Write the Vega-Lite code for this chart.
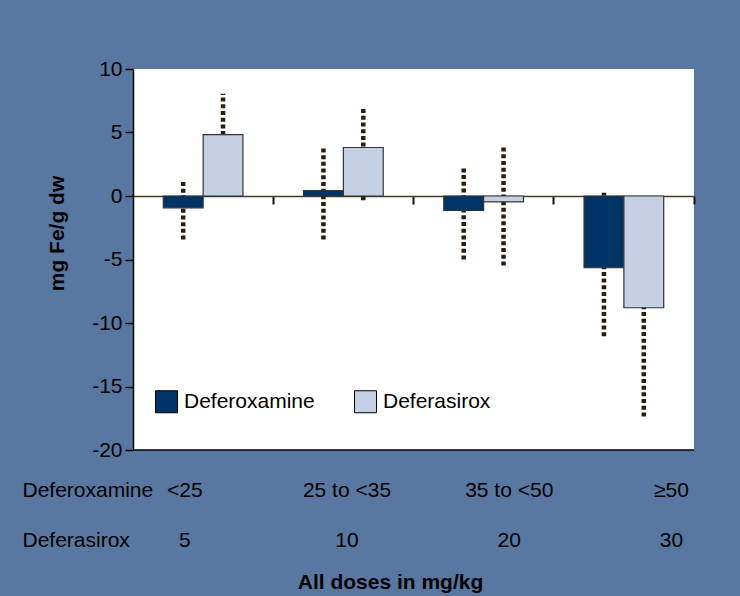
{
  "$schema": "https://vega.github.io/schema/vega-lite/v6.json",
  "width": 561,
  "height": 381,
  "autosize": "none",
  "padding": {"left": 133, "top": 69, "right": 46, "bottom": 146},
  "background": "#5877a1",
  "config": {"view": {"fill": "white", "stroke": null}, "font": "Liberation Sans"},
  "resolve": {"scale": {"x": "independent"}, "axis": {"x": "independent"}},
  "layer": [
    {
      "data": {"values": [
        {"group": "<25 / 5", "drug": "Deferoxamine", "value": -0.93, "lo": -3.43, "hi": 1.3},
        {"group": "<25 / 5", "drug": "Deferasirox", "value": 4.84, "lo": 1.63, "hi": 8.05},
        {"group": "25 to <35 / 10", "drug": "Deferoxamine", "value": 0.43, "lo": -3.43, "hi": 3.87},
        {"group": "25 to <35 / 10", "drug": "Deferasirox", "value": 3.82, "lo": -0.33, "hi": 6.94},
        {"group": "35 to <50 / 20", "drug": "Deferoxamine", "value": -1.14, "lo": -5.0, "hi": 2.32},
        {"group": "35 to <50 / 20", "drug": "Deferasirox", "value": -0.46, "lo": -5.47, "hi": 3.87},
        {"group": "≥50 / 30", "drug": "Deferoxamine", "value": -5.65, "lo": -11.04, "hi": 0.25},
        {"group": "≥50 / 30", "drug": "Deferasirox", "value": -8.8, "lo": -17.36, "hi": -0.3}
      ]},
      "encoding": {
        "x": {
          "field": "group", "type": "nominal",
          "sort": ["<25 / 5", "25 to <35 / 10", "35 to <50 / 20", "≥50 / 30"],
          "scale": {"paddingInner": 0, "paddingOuter": 0},
          "axis": {
            "orient": "bottom", "offset": -254, "labels": false, "title": null,
            "domainColor": "#4a3a26", "domainWidth": 1.5,
            "ticks": true, "tickColor": "#111111", "tickWidth": 2, "tickSize": 8,
            "bandPosition": 1, "grid": false
          }
        },
        "xOffset": {
          "field": "drug", "type": "nominal",
          "sort": ["Deferoxamine", "Deferasirox"],
          "scale": {"paddingInner": 0, "paddingOuter": 0.76}
        }
      },
      "layer": [
        {
          "mark": {"type": "rule", "strokeDash": [4, 2.7], "strokeWidth": 4.5, "color": "#2a1f0f"},
          "encoding": {
            "y": {
              "field": "lo", "type": "quantitative",
              "scale": {"domain": [-20, 10], "nice": false},
              "axis": {
                "values": [-20, -15, -10, -5, 0, 5, 10],
                "labelExpr": "datum.value + ''",
                "domainColor": "black", "domainWidth": 1.5,
                "tickColor": "black", "tickWidth": 1.5, "tickSize": 8,
                "labelFontSize": 21, "labelPadding": 3, "labelColor": "black",
                "grid": false,
                "title": "mg Fe/g dw", "titleFontSize": 21, "titleFontWeight": "bold",
                "titleColor": "black", "titleX": -76, "titleY": 164, "titleAngle": -90,
                "titleAlign": "center", "titleBaseline": "middle"
              }
            },
            "y2": {"field": "hi"}
          }
        },
        {
          "mark": {"type": "bar", "stroke": "#333333", "strokeWidth": 1.2},
          "encoding": {
            "y": {
              "field": "value", "type": "quantitative",
              "scale": {"domain": [-20, 10], "nice": false},
              "axis": {
                "values": [-20, -15, -10, -5, 0, 5, 10],
                "labelExpr": "datum.value + ''",
                "domainColor": "black", "domainWidth": 1.5,
                "tickColor": "black", "tickWidth": 1.5, "tickSize": 8,
                "labelFontSize": 21, "labelPadding": 3, "labelColor": "black",
                "grid": false,
                "title": "mg Fe/g dw", "titleFontSize": 21, "titleFontWeight": "bold",
                "titleColor": "black", "titleX": -76, "titleY": 164, "titleAngle": -90,
                "titleAlign": "center", "titleBaseline": "middle"
              }
            },
            "color": {
              "field": "drug", "type": "nominal",
              "scale": {"domain": ["Deferoxamine", "Deferasirox"], "range": ["#003366", "#c4d0e3"]},
              "legend": {
                "orient": "none", "legendX": 22, "legendY": 321, "direction": "horizontal",
                "title": null, "padding": 0, "symbolType": "square", "symbolSize": 484,
                "symbolStrokeColor": "black", "symbolStrokeWidth": 1,
                "labelFontSize": 21, "labelColor": "black", "labelOffset": 6,
                "columnPadding": 37
              }
            }
          }
        }
      ]
    },
    {
      "data": {"values": [{}]},
      "mark": {"type": "rule", "color": "black", "strokeWidth": 1.5},
      "encoding": {"y": {"datum": -20}}
    },
    {
      "data": {"values": [
        {"doses": "Deferoxamine|Deferasirox"},
        {"doses": "<25|5"},
        {"doses": "25 to <35|10"},
        {"doses": "35 to <50|20"},
        {"doses": "≥50|30"}
      ]},
      "mark": {"type": "point", "opacity": 0},
      "encoding": {
        "x": {
          "field": "doses", "type": "nominal",
          "sort": ["Deferoxamine|Deferasirox", "<25|5", "25 to <35|10", "35 to <50|20", "≥50|30"],
          "scale": {"type": "point", "range": [-111, 538], "padding": 0},
          "axis": {
            "orient": "bottom", "domain": false, "ticks": false, "tickSize": 0,
            "labelExpr": "split(datum.value, '|')",
            "labelPadding": 46, "labelBaseline": "alphabetic", "labelLineHeight": 50,
            "labelFontSize": 21, "labelColor": "black", "labelAngle": 0,
            "labelFlush": false, "labelOverlap": false, "labelBound": false,
            "labelAlign": {"condition": {"test": "indexof(datum.value, 'Defer') == 0", "value": "left"}, "value": "center"},
            "title": "All doses in mg/kg", "titleFontSize": 21, "titleFontWeight": "bold",
            "titleColor": "black", "titleX": 257, "titleY": 138,
            "titleAlign": "center", "titleBaseline": "alphabetic"
          }
        },
        "y": {"datum": -20}
      }
    }
  ]
}
